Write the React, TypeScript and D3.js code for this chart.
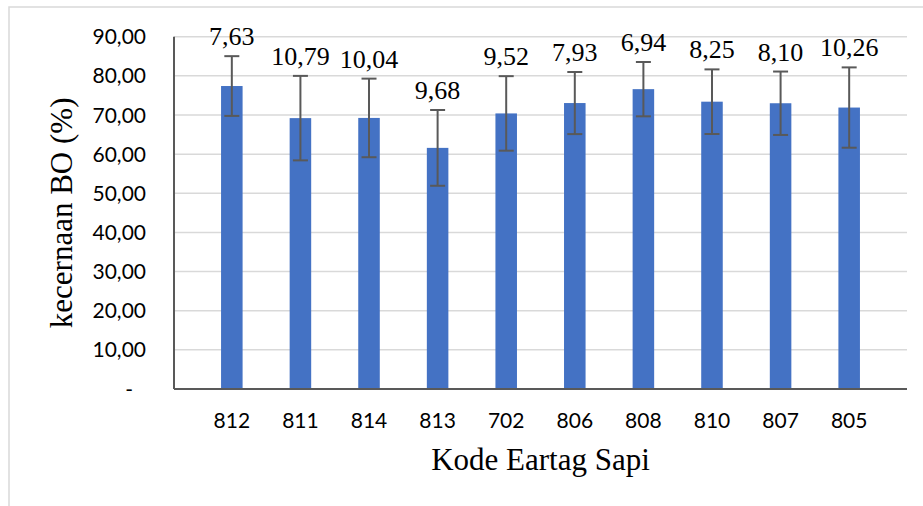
import React from "react";
import * as d3 from "d3";

const categories = ["812", "811", "814", "813", "702", "806", "808", "810", "807", "805"];
const means = [77.4, 69.2, 69.25, 61.6, 70.4, 73.05, 76.6, 73.4, 73.0, 71.9];
const stdDevs = [7.63, 10.79, 10.04, 9.68, 9.52, 7.93, 6.94, 8.25, 8.1, 10.26];
const yTicks = [0, 10, 20, 30, 40, 50, 60, 70, 80, 90];
const yTitle = "kecernaan BO (%)";
const xTitle = "Kode Eartag Sapi";

const W = 923;
const H = 506;
const M = { left: 174, right: 907, top: 36.7, bottom: 389 };

const locale = d3.formatLocale({ decimal: ",", thousands: ".", grouping: [3], currency: ["", ""] });
const fmt = locale.format(".2f");

export default function App() {
  const x = d3.scaleBand<string>().domain(categories).range([M.left, M.right]).padding(0.686);
  const y = d3.scaleLinear().domain([0, 90]).range([M.bottom, M.top]);
  const serif = "'Liberation Serif', 'Times New Roman', serif";
  const sans = "Lato, 'Open Sans', sans-serif";
  const axisColor = "#595959";
  const gridColor = "#d9d9d9";

  return (
    <svg width={W} height={H} style={{ display: "block" }}>
      <style>{`body{margin:0}`}</style>
      <rect x={0} y={0} width={W} height={H} fill="#fff" />
      <rect x={9} y={7} width={W + 10} height={H + 10} fill="none" stroke={gridColor} strokeWidth={1.5} />

      {yTicks.filter((t) => t > 0).map((t) => (
        <line key={t} x1={M.left} x2={M.right} y1={y(t)} y2={y(t)} stroke={gridColor} strokeWidth={1.5} />
      ))}

      {categories.map((c, i) => {
        const cx = (x(c) as number) + x.bandwidth() / 2;
        const top = y(means[i] + stdDevs[i]);
        const bot = y(means[i] - stdDevs[i]);
        return (
          <g key={c}>
            <rect x={x(c)} y={y(means[i])} width={x.bandwidth()} height={y(0) - y(means[i])} fill="#4472C4" />
            <line x1={cx} x2={cx} y1={top} y2={bot} stroke={axisColor} strokeWidth={2} />
            <line x1={cx - 7.5} x2={cx + 7.5} y1={top} y2={top} stroke={axisColor} strokeWidth={2} />
            <line x1={cx - 7.5} x2={cx + 7.5} y1={bot} y2={bot} stroke={axisColor} strokeWidth={2} />
            <text x={cx} y={top - 11} textAnchor="middle" fontFamily={serif} fontSize={26} fill="#000">
              {fmt(stdDevs[i])}
            </text>
            <text x={cx} y={428} textAnchor="middle" fontFamily={sans} fontSize={21} fill="#000">
              {c}
            </text>
          </g>
        );
      })}

      <line x1={M.left} x2={M.left} y1={M.top} y2={M.bottom} stroke={axisColor} strokeWidth={2} />
      <line x1={M.left} x2={M.right} y1={M.bottom} y2={M.bottom} stroke={axisColor} strokeWidth={2} />

      {yTicks.map((t) => (
        <text
          key={t}
          x={146}
          dx={t === 0 ? -13 : 0}
          y={y(t)}
          dy="0.36em"
          textAnchor="end"
          fontFamily={sans}
          fontSize={21}
          fill="#000"
        >
          {t === 0 ? "-" : fmt(t)}
        </text>
      ))}

      <text
        transform={`translate(72, ${(M.top + M.bottom) / 2}) rotate(-90)`}
        textAnchor="middle"
        fontFamily={serif}
        fontSize={31}
        fill="#000"
      >
        {yTitle}
      </text>
      <text x={(M.left + M.right) / 2} y={470} textAnchor="middle" fontFamily={serif} fontSize={31} fill="#000">
        {xTitle}
      </text>
    </svg>
  );
}
